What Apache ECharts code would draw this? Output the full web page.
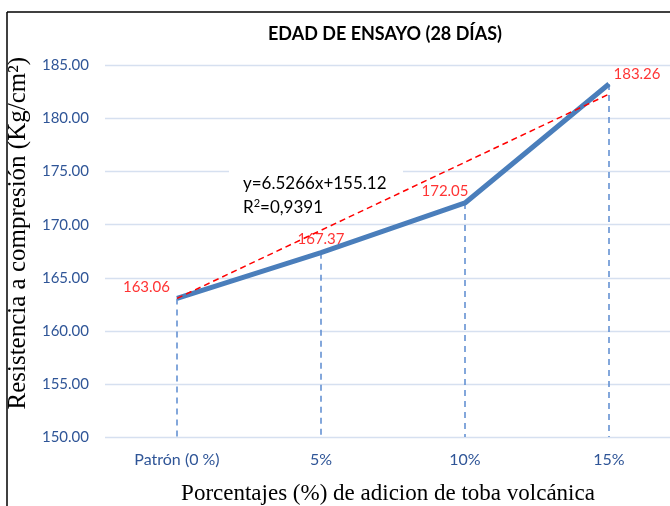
<!DOCTYPE html>
<html>
<head>
<meta charset="utf-8">
<script src="https://cdn.jsdelivr.net/npm/echarts@6/dist/echarts.min.js"></script>
<style>html,body{margin:0;padding:0;background:#fff}#c{width:670px;height:506px}</style>
</head>
<body>
<div id="c"></div>
<script>
var categories = ['Patrón (0 %)', '5%', '10%', '15%'];
var resistencia = [163.06, 167.37, 172.05, 183.26];
var trendValues = [163.06, null, null, 182.3];
var yTicks = {min: 150, max: 185, interval: 5};

var labelPos = [
  {position: 'left', offset: [-2, -11]},
  {position: 'top', offset: [0, -1]},
  {position: 'top', offset: [-20, 1]},
  {position: 'top', offset: [28, 3]}
];
var FONT = 'Lato, "Open Sans", sans-serif';
var SERIF = '"Liberation Serif", "DejaVu Serif", serif';
var AXC = '#2F5597';

var chart = echarts.init(document.getElementById('c'));
chart.setOption({
  animation: false,
  title: {
    text: 'EDAD DE ENSAYO (28 DÍAS)',
    left: 380, top: 20, textAlign: 'center',
    textStyle: {fontFamily: FONT, fontWeight: 'bold', fontSize: 18, color: '#000'}
  },
  grid: {left: 105, top: 65.5, width: 576, height: 371.5, containLabel: false, outerBoundsMode: 'none'},
  xAxis: {
    type: 'category', data: categories, boundaryGap: true,
    axisLine: {show: false}, axisTick: {show: false},
    axisLabel: {color: AXC, fontFamily: FONT, fontSize: 16, margin: 15},
    name: 'Porcentajes (%) de adicion de toba volcánica',
    nameLocation: 'middle', nameGap: 45,
    nameTextStyle: {fontFamily: SERIF, fontSize: 23, color: '#000', padding: [0, 10, 0, 0]}
  },
  yAxis: {
    type: 'value', min: yTicks.min, max: yTicks.max, interval: yTicks.interval,
    axisLine: {show: false}, axisTick: {show: false},
    splitLine: {lineStyle: {color: '#D6E0F0', width: 1.3}},
    axisLabel: {color: AXC, fontFamily: FONT, fontSize: 15, margin: 16,
      formatter: function (v) { return v.toFixed(2); }},
    name: 'Resistencia a compresión (Kg/cm²)',
    nameLocation: 'middle', nameGap: 73, nameRotate: 90,
    nameTextStyle: {fontFamily: SERIF, fontSize: 25, color: '#000', padding: [0, 0, 0, 36]}
  },
  series: [
    {
      type: 'line', data: resistencia, symbol: 'none', z: 3,
      lineStyle: {color: '#4A7EBB', width: 5},
      label: {show: false},
      markLine: {
        silent: true, symbol: 'none', z: 1,
        lineStyle: {color: '#5B8AD0', type: [6, 5], width: 1.5},
        label: {show: false},
        data: resistencia.map(function (v, i) {
          return [{coord: [i, v]}, {coord: [i, yTicks.min]}];
        })
      }
    },
    {
      type: 'line', data: trendValues, connectNulls: true, symbol: 'none', z: 4,
      lineStyle: {color: '#FF0000', type: [6, 4], width: 1.5}
    },
    {
      type: 'scatter', symbolSize: 0, z: 5,
      data: resistencia.map(function (v, i) {
        return {value: [i, v], label: labelPos[i]};
      }),
      label: {show: true, color: '#FF0000', fontFamily: FONT, fontSize: 15,
        formatter: function (p) { return p.value[1].toFixed(2); }}
    }
  ],
  graphic: [
    {type: 'line', shape: {x1: 7, y1: 12, x2: 670, y2: 12}, style: {stroke: '#000', lineWidth: 1.5}},
    {type: 'line', shape: {x1: 7, y1: 12, x2: 7, y2: 506}, style: {stroke: '#000', lineWidth: 1.5}},
    {type: 'rect', shape: {x: 229, y: 168, width: 174, height: 52}, style: {fill: '#fff'}, z: 2},
    {type: 'text', x: 243, y: 175, z: 3, style: {text: 'y=6.5266x+155.12', fontFamily: FONT, fontSize: 17, fill: '#000'}},
    {type: 'text', x: 243, y: 198, z: 3, style: {text: '{a|R}{s|2}{a|=0,9391}', fontFamily: FONT, fontSize: 17, fill: '#000',
      rich: {a: {fontFamily: FONT, fontSize: 17, color: '#000'}, s: {fontFamily: FONT, fontSize: 11, color: '#000', verticalAlign: 'top', padding: [0, 0, 8, 0]}}}}
  ]
});
</script>
</body>
</html>
